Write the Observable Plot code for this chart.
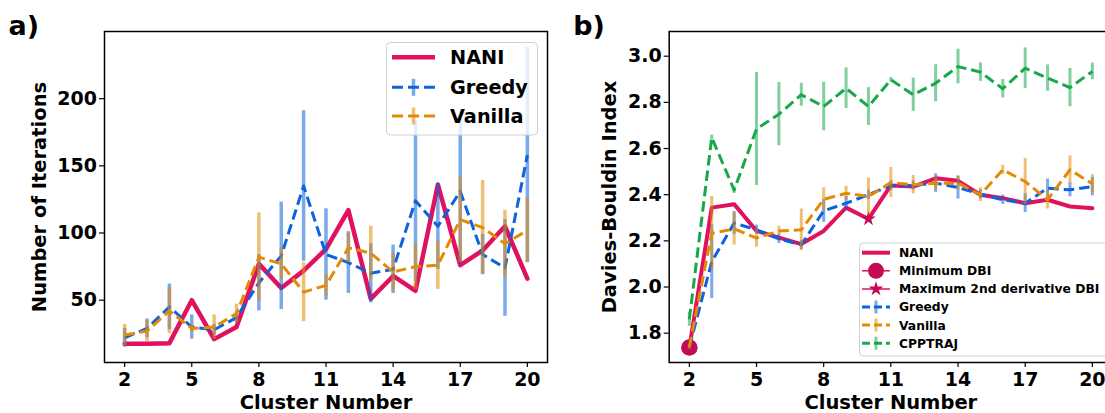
<!DOCTYPE html>
<html><head><meta charset="utf-8">
<script src="https://cdn.jsdelivr.net/npm/d3@7"></script>
<script src="https://cdn.jsdelivr.net/npm/@observablehq/plot@0.6"></script>
<style>
html,body{margin:0;padding:0;background:#fff;overflow:hidden;}
#chart{position:relative;width:1105px;height:413px;overflow:hidden;}
#chart svg{position:absolute;top:0;}
</style></head><body><div id="chart"></div>
<script>
// ---------- data ----------
const clusters = [2,3,4,5,6,7,8,9,10,11,12,13,14,15,16,17,18,19,20];
const xTicks = [2,5,8,11,14,17,20];
const iterTicks = [50,100,150,200];
const dbiTicks = [1.8,2.0,2.2,2.4,2.6,2.8,3.0];

// panel a: number of iterations
const naniIter      = [17.5,17.5,18,50,21,30,77,59,72,88,117,51,68,57,136,76,87,105,66];
const greedyIter    = [22,29,45,30,28,37,63,83,135,84,78,70,73,124,105,131,84,74,158];
const greedyIterErr = [7,7,17,9,4,4,21,40,56,34,23,22,18,60,32,54,15,36,80];
const vanillaIter   = [24,27,42,29,30,40,82,77,56,61,89,85,71,75,76,110,104,92,102];
const vanillaIterErr= [8,8,17,3,9,7,33,12,22,8,11,20,14,17,18,32,35,25,24];

// panel b: Davies-Bouldin index
const naniDBI       = [1.738,2.344,2.359,2.243,2.214,2.186,2.243,2.344,2.295,2.44,2.435,2.471,2.46,2.4,2.385,2.363,2.378,2.349,2.341];
const greedyDBI     = [1.74,2.11,2.277,2.248,2.209,2.183,2.33,2.363,2.4,2.44,2.44,2.45,2.431,2.402,2.378,2.363,2.428,2.421,2.435];
const greedyDBIErr  = [0.01,0.16,0.05,0.02,0.02,0.02,0.05,0.03,0.02,0.02,0.02,0.04,0.05,0.02,0.02,0.04,0.04,0.03,0.04];
const vanillaDBI    = [1.74,2.233,2.252,2.212,2.243,2.248,2.38,2.406,2.392,2.453,2.443,2.45,2.45,2.4,2.508,2.457,2.378,2.508,2.447];
const vanillaDBIErr = [0.01,0.16,0.07,0.04,0.02,0.09,0.05,0.03,0.08,0.065,0.04,0.03,0.03,0.03,0.02,0.1,0.04,0.06,0.04];
const cpptrajDBI    = [1.86,2.648,2.42,2.685,2.749,2.833,2.782,2.861,2.782,2.898,2.833,2.883,2.955,2.931,2.859,2.948,2.905,2.864,2.934];
const cpptrajDBIErr = [0.03,0.01,0.015,0.245,0.137,0.05,0.105,0.088,0.082,0.01,0.072,0.08,0.075,0.04,0.04,0.088,0.057,0.083,0.036];
const minDBICluster = 2;
const max2ndDerivCluster = 10;

// ---------- styling ----------
const FONT = "DejaVu Sans";
const COL = {nani:"#e0115f", greedy:"#0d63dd", vanilla:"#e38b06", cpptraj:"#18a84a", marker:"#c40b55"};
const ERR_OP = 0.55;

const rows = (ys, errs) => clusters.map((c,i) => ({c, y: ys[i], lo: errs ? ys[i]-errs[i] : ys[i], hi: errs ? ys[i]+errs[i] : ys[i]}));

const baseStyle = {fontFamily: FONT, fontWeight: "bold", fontSize: "19px", color: "black", background: "transparent", overflow: "visible"};

function commonMarks(yTicks, yFmt, ylabel, ylabelDx, tag) {
  return [
    Plot.axisX({ticks: xTicks, tickSize: 5, tickPadding: 5, label: null, fontSize: 19, strokeWidth: 1.2}),
    Plot.axisY({ticks: yTicks, tickSize: 5, tickPadding: 2.5, label: null, fontSize: 19, tickFormat: yFmt, strokeWidth: 1.2}),
    Plot.text(["Cluster Number"], {text: d => d, frameAnchor: "bottom", dy: 40.5, textAnchor: "middle", lineAnchor: "middle", fontSize: 19.5, fontWeight: "bold"}),
    Plot.text([ylabel], {text: d => d, frameAnchor: "left", dx: ylabelDx, rotate: -90, textAnchor: "middle", lineAnchor: "middle", fontSize: 19.5, fontWeight: "bold"}),
    Plot.text([tag], {text: d => d, frameAnchor: "top-left", dx: -96, dy: 3.5, textAnchor: "start", lineAnchor: "bottom", fontSize: 27, fontWeight: "bold"})
  ];
}

// ---------- panel a ----------
const nA = rows(naniIter), gA = rows(greedyIter, greedyIterErr), vA = rows(vanillaIter, vanillaIterErr);
const plotA = Plot.plot({
  width: 560, height: 413,
  marginLeft: 104, marginRight: 13, marginTop: 31, marginBottom: 51,
  x: {domain: [1.1, 20.9]},
  y: {domain: [3.6, 250]},
  style: baseStyle,
  marks: [
    Plot.line(nA, {x: "c", y: "y", stroke: COL.nani, strokeWidth: 4.5}),
    Plot.ruleX(gA, {x: "c", y1: "lo", y2: "hi", stroke: COL.greedy, strokeOpacity: ERR_OP, strokeWidth: 3.5}),
    Plot.line(gA, {x: "c", y: "y", stroke: COL.greedy, strokeWidth: 3, strokeDasharray: "10.5,5", strokeLinecap: "butt"}),
    Plot.ruleX(vA, {x: "c", y1: "lo", y2: "hi", stroke: COL.vanilla, strokeOpacity: ERR_OP, strokeWidth: 3.5}),
    Plot.line(vA, {x: "c", y: "y", stroke: COL.vanilla, strokeWidth: 3, strokeDasharray: "10.5,5", strokeLinecap: "butt"}),
    ...commonMarks(iterTicks, d3.format("d"), "Number of Iterations", -65, "a)"),
    Plot.frame({stroke: "black", strokeWidth: 1.5})
  ]
});
plotA.style.left = "0px";
document.getElementById("chart").appendChild(plotA);

// ---------- panel b ----------
const nB = rows(naniDBI), gB = rows(greedyDBI, greedyDBIErr), vB = rows(vanillaDBI, vanillaDBIErr), cB = rows(cpptrajDBI, cpptrajDBIErr);
const minPt = nB.filter(d => d.c === minDBICluster);
const maxPt = nB.filter(d => d.c === max2ndDerivCluster);
const plotB = Plot.plot({
  width: 552, height: 413,
  marginLeft: 108.7, marginRight: 0, marginTop: 31, marginBottom: 51,
  x: {domain: [1.1, 20.9]},
  y: {domain: [1.673, 3.107]},
  style: baseStyle,
  marks: [
    Plot.line(nB, {x: "c", y: "y", stroke: COL.nani, strokeWidth: 4}),
    Plot.dot(minPt, {x: "c", y: "y", r: 8.3, fill: COL.marker, symbol: "circle"}),
    Plot.dot(maxPt, {x: "c", y: "y", r: 4.6, fill: COL.marker, symbol: "star"}),
    Plot.ruleX(gB, {x: "c", y1: "lo", y2: "hi", stroke: COL.greedy, strokeOpacity: ERR_OP, strokeWidth: 3}),
    Plot.line(gB, {x: "c", y: "y", stroke: COL.greedy, strokeWidth: 3, strokeDasharray: "10.5,5", strokeLinecap: "butt"}),
    Plot.ruleX(vB, {x: "c", y1: "lo", y2: "hi", stroke: COL.vanilla, strokeOpacity: ERR_OP, strokeWidth: 3}),
    Plot.line(vB, {x: "c", y: "y", stroke: COL.vanilla, strokeWidth: 3, strokeDasharray: "10.5,5", strokeLinecap: "butt"}),
    Plot.ruleX(cB, {x: "c", y1: "lo", y2: "hi", stroke: COL.cpptraj, strokeOpacity: ERR_OP, strokeWidth: 3}),
    Plot.line(cB, {x: "c", y: "y", stroke: COL.cpptraj, strokeWidth: 3, strokeDasharray: "10.5,5", strokeLinecap: "butt"}),
    ...commonMarks(dbiTicks, d3.format(".1f"), "Davies-Bouldin Index", -59.7, "b)"),
    Plot.frame({stroke: "black", strokeWidth: 1.5})
  ]
});
plotB.style.left = "560px";
document.getElementById("chart").appendChild(plotB);

// ---------- legends ----------
const ov = d3.select("#chart").append("svg")
  .attr("width", 1105).attr("height", 413)
  .style("left", "0px").style("pointer-events", "none")
  .attr("font-family", FONT).attr("font-weight", "bold");

function drawLegend(box, items, o) {
  const g = ov.append("g");
  g.append("rect").attr("x", box.x).attr("y", box.y).attr("width", box.w).attr("height", box.h)
    .attr("rx", 4).attr("fill", "white").attr("fill-opacity", 0.8).attr("stroke", "#d0d0d0").attr("stroke-width", 1);
  const xm = (o.x0 + o.x1) / 2;
  items.forEach(it => {
    const cy = it.cy;
    if (it.kind === "dash") {
      g.append("line").attr("x1", o.x0).attr("x2", o.x1).attr("y1", cy).attr("y2", cy)
        .attr("stroke", it.color).attr("stroke-width", 3).attr("stroke-dasharray", o.dash);
      g.append("line").attr("x1", xm).attr("x2", xm).attr("y1", cy - o.tick/2).attr("y2", cy + o.tick/2)
        .attr("stroke", it.color).attr("stroke-opacity", ERR_OP).attr("stroke-width", o.tickW);
    } else {
      g.append("line").attr("x1", o.x0).attr("x2", o.x1).attr("y1", cy).attr("y2", cy)
        .attr("stroke", it.color).attr("stroke-width", it.lw);
      if (it.kind === "circle") {
        g.append("circle").attr("cx", xm).attr("cy", cy).attr("r", 8).attr("fill", it.mcolor);
      } else if (it.kind === "star") {
        g.append("path").attr("d", d3.symbol(d3.symbolStar, Math.PI * 4.6 * 4.6)())
          .attr("transform", `translate(${xm},${cy})`).attr("fill", it.mcolor);
      }
    }
    g.append("text").attr("x", o.tx).attr("y", cy + 0.365 * o.fs).attr("font-size", o.fs)
      .attr("fill", "black").text(it.label);
  });
}

drawLegend({x: 386.5, y: 42.5, w: 151, h: 92.5},
  [{label: "NANI", cy: 57.3, kind: "solid", color: COL.nani, lw: 4.5},
   {label: "Greedy", cy: 87.3, kind: "dash", color: COL.greedy},
   {label: "Vanilla", cy: 116, kind: "dash", color: COL.vanilla}],
  {x0: 392, x1: 435, tx: 450, fs: 19.3, dash: "11,5", tick: 17, tickW: 3.5});

drawLegend({x: 859.5, y: 243, w: 262, h: 113},
  [{label: "NANI", cy: 252.7, kind: "solid", color: COL.nani, lw: 4},
   {label: "Minimum DBI", cy: 270.8, kind: "circle", color: COL.nani, lw: 1.5, mcolor: COL.marker},
   {label: "Maximum 2nd derivative DBI", cy: 289, kind: "star", color: COL.nani, lw: 1.5, mcolor: COL.marker},
   {label: "Greedy", cy: 307, kind: "dash", color: COL.greedy},
   {label: "Vanilla", cy: 325.1, kind: "dash", color: COL.vanilla},
   {label: "CPPTRAJ", cy: 343.2, kind: "dash", color: COL.cpptraj}],
  {x0: 862, x1: 890, tx: 899, fs: 12.3, dash: "8,4", tick: 13, tickW: 3});
</script></body></html>
